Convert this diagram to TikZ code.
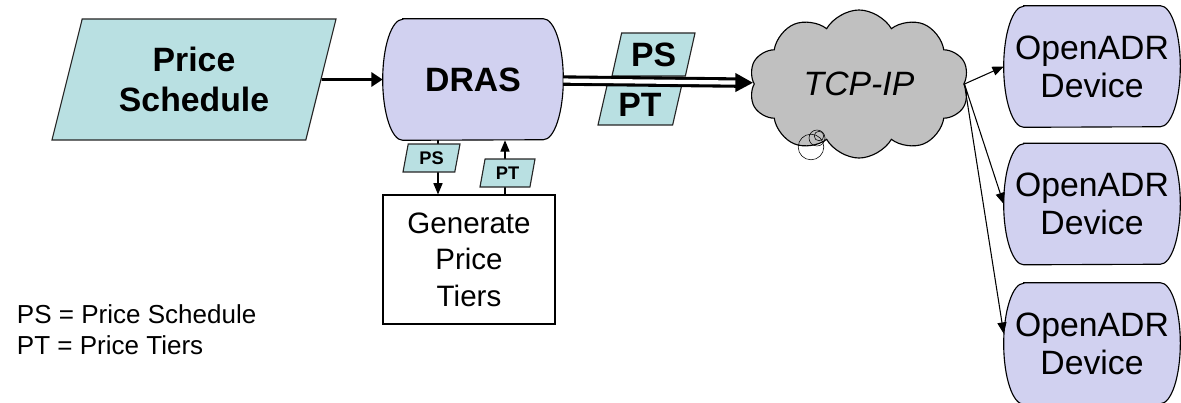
\documentclass[tikz,border=0pt]{standalone}
\usepackage{fontspec}
\setmainfont{Liberation Sans}
\usetikzlibrary{shapes.geometric,shapes.symbols,arrows.meta,calc,backgrounds}

\definecolor{datafill}{RGB}{185,224,226}
\definecolor{hostfill}{RGB}{209,209,240}
\definecolor{netfill}{RGB}{192,192,192}

\tikzset{
  datapar/.style={trapezium, trapezium left angle=68, trapezium right angle=112,
    trapezium stretches body, draw=black!85, line width=0.8pt, fill=datafill,
    inner sep=0pt, font=\bfseries\fontsize{24}{28.5}\selectfont},
  smallpar/.style={datapar, minimum height=0.7cm,
    font=\bfseries\fontsize{13}{15}\selectfont},
  capnode/.style={inner sep=0pt, minimum width=4.4cm, minimum height=3.025cm,
    align=center, font=\fontsize{24}{27}\selectfont},
  thickarrow/.style={line width=1.8pt, -{Triangle[length=8pt,width=10pt]}},
  thinarrow/.style={line width=0.75pt, -{Triangle[length=8pt,width=6.5pt]}},
  dblarrow/.style={draw=black, double=white, line width=2.2pt, double distance=3pt,
    -{Triangle[length=12.5pt,width=13pt]}}
}

% flat top and bottom, half-ellipse ends
\newcommand{\capsule}[1]{%
  \draw[fill=hostfill, line width=0.8pt]
    ($(#1.north west)+(0.5cm,0)$) -- ($(#1.north east)+(-0.5cm,0)$)
    arc[start angle=90, end angle=-90, x radius=0.5cm, y radius=1.5125cm]
    -- ($(#1.south west)+(0.5cm,0)$)
    arc[start angle=270, end angle=90, x radius=0.5cm, y radius=1.5125cm] -- cycle;}

\begin{document}
\begin{tikzpicture}[x=0.025cm, y=-0.025cm]
    \useasboundingbox (0,0) rectangle (1181,402);

    \node[datapar, trapezium left angle=65, trapezium right angle=115,
      minimum width=7.1cm, minimum height=3.025cm, align=center] (sched) at (194,79.5) {Price\\Schedule};
    \node[capnode, minimum width=4.5cm, font=\bfseries\fontsize{24}{27}\selectfont] (dras) at (473,79.5) {DRAS};
    \node[draw, line width=0.8pt, fill=white, inner sep=0pt, minimum width=4.3cm, minimum height=3.225cm,
      align=center, font=\fontsize{21}{26}\selectfont] (gen) at (469,259.5) {Generate\\Price\\Tiers};
    \node[cloud, cloud puffs=10, cloud puff arc=120, aspect=1.5, draw, line width=0.8pt, fill=netfill,
      inner sep=0pt, minimum width=5.5cm, minimum height=3.7cm,
      font=\itshape\fontsize{24}{27}\selectfont] (net) at (859,84) {TCP-IP};
    \node[capnode] (dev1) at (1092,66.5) {OpenADR\\Device};
    \node[capnode] (dev2) at (1092,204) {OpenADR\\Device};
    \node[capnode] (dev3) at (1092,343.5) {OpenADR\\Device};

    \begin{scope}[on background layer]
      \capsule{dras}
      \capsule{dev1}
      \capsule{dev2}
      \capsule{dev3}
    \end{scope}

    \draw (811,147) circle[radius=0.32cm];
    \draw (817,138) circle[radius=0.2cm];
    \draw (819,136) circle[radius=0.12cm];

    \node[datapar, minimum width=2.075cm, minimum height=1.075cm] (psnet) at (653.5,54.5) {PS};
    \node[datapar, minimum width=2.1cm, minimum height=1.025cm] (ptnet) at (640,104.5) {PT};

    \draw[thickarrow] (sched) -- (dras);
    \draw[dblarrow] (dras) -- (net);

    \coordinate (down) at (438,0);
    \coordinate (up) at (505,0);
    \draw[thinarrow] (dras.south -| down) -- (gen.north -| down);
    \draw[thinarrow] (gen.north -| up) -- (dras.south -| up);
    \node[smallpar, minimum width=1.425cm] (psin) at (431.5,158) {PS};
    \node[smallpar, minimum width=1.375cm] (ptout) at (507.5,173) {PT};

    \draw[thinarrow] (net.east) -- (dev1.west);
    \draw[thinarrow] (net.east) -- (dev2.west);
    \draw[thinarrow] (net.east) -- ([yshift=7pt]dev3.west);

    \node[anchor=base west, font=\fontsize{18.5}{22}\selectfont] (key1) at (12,323) {PS = Price Schedule};
    \node[anchor=base west, font=\fontsize{18.5}{22}\selectfont] (key2) at (12,354) {PT = Price Tiers};
\end{tikzpicture}
\end{document}
